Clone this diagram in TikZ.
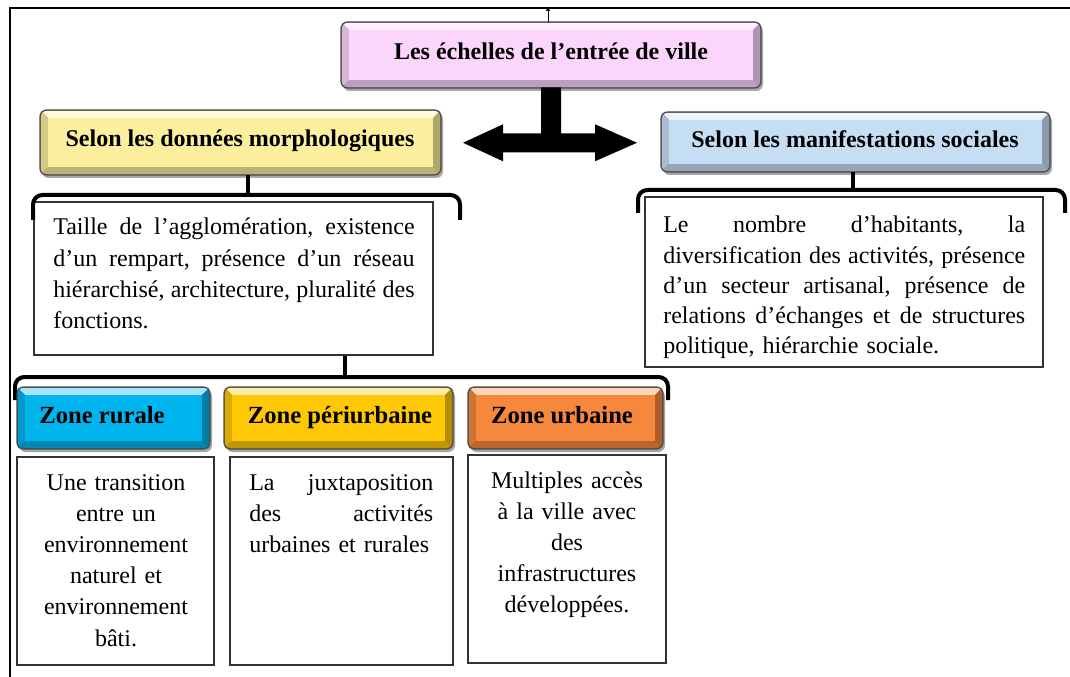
\documentclass[tikz,border=0pt]{standalone}
\usepackage{fontspec}
\setmainfont{Liberation Serif}
\usetikzlibrary{arrows.meta,fit,calc}
\definecolor{cpink}{HTML}{FCD5FC}
\definecolor{cyellow}{HTML}{FBEE9C}
\definecolor{cblue}{HTML}{C6DEF4}
\definecolor{crural}{HTML}{00B4EE}
\definecolor{cperi}{HTML}{FFC805}
\definecolor{curb}{HTML}{F5883C}
\newcommand{\bevelbox}[6]{%
 \fill[black!35, rounded corners=5] (#2+2,#3+3) rectangle (#4+2,#5+3);
 \fill[#6!60!black, rounded corners=5] (#2,#3) rectangle (#4,#5);
 \fill[#6!35!white] (#2+1,#3+1) -- (#4-1,#3+1) -- (#4-8,#3+8) -- (#2+8,#3+8) -- cycle;
 \fill[#6!85!black] (#2+1,#3+1) -- (#2+8,#3+8) -- (#2+8,#5-8) -- (#2+1,#5-1) -- cycle;
 \fill[#6!70!black] (#4-1,#3+1) -- (#4-8,#3+8) -- (#4-8,#5-8) -- (#4-1,#5-1) -- cycle;
 \fill[#6!75!black] (#2+1,#5-1) -- (#2+8,#5-8) -- (#4-8,#5-8) -- (#4-1,#5-1) -- cycle;
 \fill[#6] (#2+8,#3+8) rectangle (#4-8,#5-8);
 \draw[black!70, line width=1pt, rounded corners=5] (#2,#3) rectangle (#4,#5);
 \node[fit={(#2,#3)(#4,#5)}, inner sep=0pt] (#1) {};
}
\begin{document}
\begin{tikzpicture}[x=0.75pt,y=-0.75pt,
 txtbox/.style={draw=black!80, line width=0.9pt, fill=white, inner sep=0pt},
 body/.style={font=\fontsize{18}{23.4}\selectfont, inner sep=0pt},
 bodyr/.style={font=\fontsize{18}{22.6}\selectfont, inner sep=0pt},
 head/.style={font=\fontsize{18}{22}\selectfont\bfseries, inner sep=0pt, anchor=base},
 zhead/.style={font=\fontsize{18.5}{22}\selectfont\bfseries, inner sep=0pt, anchor=base},
 brace/.style={line width=3pt, rounded corners=7},
 tick/.style={line width=3pt}]
\useasboundingbox (0,0) rectangle (1070,677);
\fill[white] (0,0) rectangle (1070,677);
\draw[line width=1.5pt] (10,677) -- (10,8) -- (1070,8);

% headings
\bevelbox{title}{341}{22}{761}{88}{cpink}
\node[head] (titletxt) at (551,60) {Les échelles de l’entrée de ville};
\bevelbox{morph}{40}{110}{441}{175}{cyellow}
\node[head] (morphtxt) at (240,147) {Selon les données morphologiques};
\bevelbox{soc}{661}{112}{1050}{172}{cblue}
\node[head] (soctxt) at (855,148) {Selon les manifestations sociales};

% double arrow
\fill[black, shift={(title.south)}] (-10,-1) -- (10,-1) -- (10,45) -- (44,45) -- (44,36) -- (86,54.5) -- (44,73) -- (44,64) -- (-48,64) -- (-48,73) -- (-88,54.5) -- (-48,36) -- (-48,45) -- (-10,45) -- cycle;

% top tick
\coordinate (tk) at (548,7);
\draw[line width=0.7pt, -{Triangle[length=3pt,width=3pt]}] (tk |- title.north) -- (tk);

% text boxes
\node[txtbox, fit={(34,202)(433,355)}] (morphbox) {};
\node[txtbox, fit={(645,197)(1043,367)}] (socbox) {};

\node[body, text width=271pt, anchor=base west] (morphpar) at (53,235) {%
\hbox to 271pt{Taille\hfill de\hfill l’agglomération,\hfill existence}
\hbox to 271pt{d’un\hfill rempart,\hfill présence\hfill d’un\hfill réseau}
\hbox to 271pt{hiérarchisé,\hfill architecture,\hfill pluralité\hfill des}
\hbox{fonctions.}};

\node[bodyr, text width=271.5pt, anchor=base west] (socpar) at (663,233) {%
\hbox to 271.5pt{Le\hfill nombre\hfill d’habitants,\hfill la}
\hbox to 271.5pt{diversification\hfill des\hfill activités,\hfill présence}
\hbox to 271.5pt{d’un\hfill secteur\hfill artisanal,\hfill présence\hfill de}
\hbox to 271.5pt{relations\hfill d’échanges\hfill et\hfill de\hfill structures}
\hbox{politique, hiérarchie sociale.}};

% braces
\coordinate (b1) at (248,195);
\draw[brace] (33,220) -- (33,195) -- (460,195) -- (460,220);
\draw[tick] (b1) -- (b1 |- morph.south);
\coordinate (b2) at (853,190);
\draw[brace] (638,213) -- (638,190) -- (1065,190) -- (1065,213);
\draw[tick] (b2) -- (b2 |- soc.south);
\coordinate (b3) at (345,377);
\draw[brace] (15,400) -- (15,377) -- (668,377) -- (668,400);
\draw[tick] (b3) -- (b3 |- morphbox.south);

% zones
\bevelbox{rur}{17}{387}{210}{449}{crural}
\node[zhead] (rurtxt) at (102,423) {Zone rurale};
\bevelbox{peri}{224}{387}{453}{449}{cperi}
\node[zhead] (peritxt) at (340,423) {Zone périurbaine};
\bevelbox{urb}{468}{387}{663}{449}{curb}
\node[zhead] (urbtxt) at (562,423) {Zone urbaine};

\node[txtbox, fit={(17,457)(214,665)}] (rurbox) {};
\node[txtbox, fit={(230,457)(453,665)}] (peribox) {};
\node[txtbox, fit={(468,455)(666,663)}] (urbbox) {};

\node[body, text width=145pt, align=center, anchor=base] (rurpar) at (116,490) {%
Une transition\\entre un\\environnement\\naturel et\\environnement\\bâti.};
\node[body, text width=138pt, anchor=base west] (peripar) at (249,490) {%
\hbox to 138pt{La\hfill juxtaposition}
\hbox to 138pt{des\hfill activités}
\hbox{urbaines et rurales}};
\node[body, text width=145pt, align=center, anchor=base] (urbpar) at (567,488) {%
Multiples accès\\à la ville avec\\des\\infrastructures\\développées.};
\end{tikzpicture}
\end{document}
